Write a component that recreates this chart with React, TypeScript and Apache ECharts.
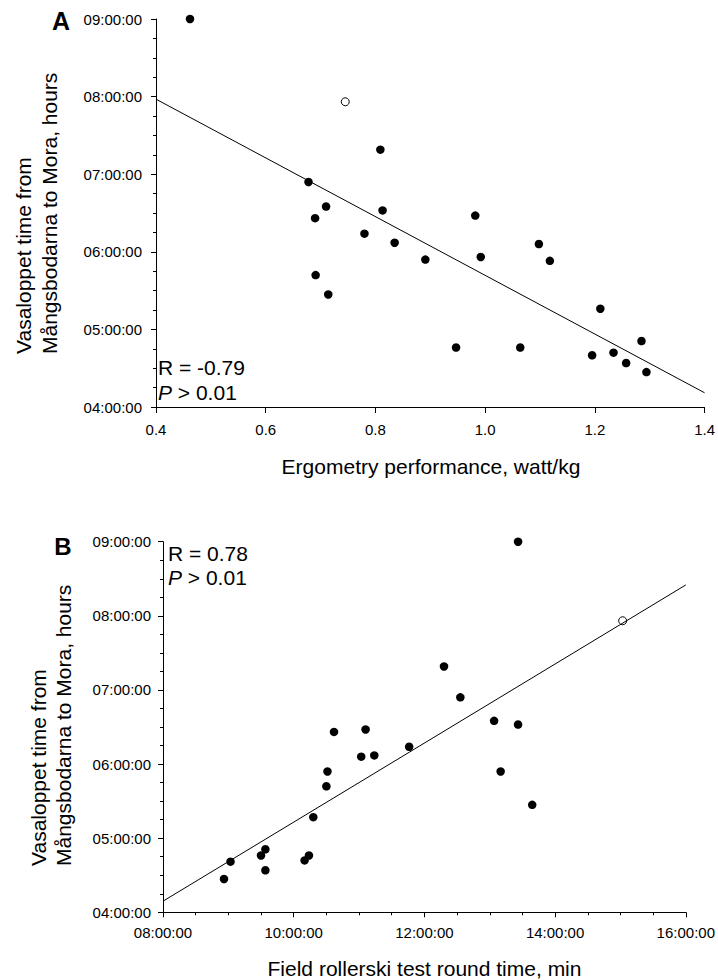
import React, { useEffect, useRef } from "react";
import * as echarts from "echarts";

// ---------- Panel A data ----------
const ergometryA = [0.462, 0.809, 0.678, 0.71, 0.69, 0.813, 0.78, 0.835, 0.891, 0.691, 0.714, 0.982, 0.992, 1.098, 1.118, 1.21, 0.947, 1.064, 1.195, 1.234, 1.257, 1.285, 1.294];
const vasaloppetA = ["09:00", "07:19", "06:54", "06:35", "06:26", "06:32", "06:14", "06:07", "05:54", "05:42", "05:27", "06:28", "05:56", "06:06", "05:53", "05:16", "04:46", "04:46", "04:40", "04:42", "04:34", "04:51", "04:27"];
const openErgometryA = [0.745];
const openVasaloppetA = ["07:56"];
const fitErgometryA = [0.4, 1.4];
const fitVasaloppetA = ["07:58", "04:11"];

// ---------- Panel B data ----------
const rollerskiB = ["13:26", "12:18", "12:33", "13:04", "13:26", "11:46", "10:37", "11:06", "11:02", "11:14", "10:31", "10:30", "10:18", "13:10", "13:39", "09:34", "09:30", "09:34", "09:02", "08:56", "10:10", "10:14"];
const vasaloppetB = ["09:00", "07:19", "06:54", "06:35", "06:32", "06:14", "06:26", "06:28", "06:06", "06:07", "05:54", "05:42", "05:17", "05:54", "05:27", "04:51", "04:46", "04:34", "04:41", "04:27", "04:42", "04:46"];
const openRollerskiB = ["15:02"];
const openVasaloppetB = ["07:56"];
const fitRollerskiB = ["08:00", "16:00"];
const fitVasaloppetB = ["04:09", "08:25"];

// ---------- Axis settings ----------
const yTicksMin = 4;
const yTicksMax = 9;
const xAMin = 0.4;
const xAMax = 1.4;
const xBMin = 8;
const xBMax = 16;

const statsA = ["R = -0.79", "> 0.01"];
const statsB = ["R = 0.78", "> 0.01"];

const FONT = "'Liberation Sans', Arial, Helvetica, sans-serif";

const toHours = (s: string) => {
  const [h, m] = s.split(":").map(Number);
  return h + m / 60;
};
const pad = (n: number) => (n < 10 ? "0" + n : "" + n);
const fmtTime = (v: number) => {
  const h = Math.floor(v + 1e-9);
  const m = Math.round((v - h) * 60);
  return pad(h) + ":" + pad(m) + ":00";
};

export default function App() {
  const ref = useRef<HTMLDivElement>(null);

  useEffect(() => {
    document.body.style.margin = "0";
    if (!ref.current) return;
    const chart = echarts.init(ref.current, undefined, { renderer: "svg" });

    const ptsA = ergometryA.map((x, i) => [x, toHours(vasaloppetA[i])]);
    const openA = openErgometryA.map((x, i) => [x, toHours(openVasaloppetA[i])]);
    const fitA = fitErgometryA.map((x, i) => [x, toHours(fitVasaloppetA[i])]);
    const ptsB = rollerskiB.map((x, i) => [toHours(x), toHours(vasaloppetB[i])]);
    const openB = openRollerskiB.map((x, i) => [toHours(x), toHours(openVasaloppetB[i])]);
    const fitB = fitRollerskiB.map((x, i) => [toHours(x), toHours(fitVasaloppetB[i])]);

    const axisLine = { show: true, lineStyle: { color: "#000", width: 1 } };
    const labelStyle = { color: "#000", fontSize: 15, fontFamily: FONT };

    const textEl = (x: number, y: number, text: string, extra: any = {}) => ({
      type: "text",
      x,
      y,
      silent: true,
      ...extra,
      style: {
        text,
        fill: "#000",
        fontSize: 21,
        fontFamily: FONT,
        ...(extra.style || {}),
      },
    });

    const statEl = (x: number, y: number, text: string) => ({
      type: "text",
      x,
      y,
      silent: true,
      style: {
        text: "{i|P} " + text,
        fill: "#000",
        fontSize: 21,
        fontFamily: FONT,
        align: "left",
        textAlign: "left",
        verticalAlign: "middle",
        textVerticalAlign: "middle",
        rich: {
          i: { fontStyle: "italic", fontSize: 21, fontFamily: FONT, fill: "#000" },
        },
      },
    });

    const rotStyle = { align: "left", textAlign: "left", verticalAlign: "middle", textVerticalAlign: "middle" };
    const midStyle = { align: "center", textAlign: "center", verticalAlign: "middle", textVerticalAlign: "middle" };
    const leftStyle = { align: "left", textAlign: "left", verticalAlign: "middle", textVerticalAlign: "middle" };

    const filled = { color: "#000", opacity: 1 };
    const hollow = { color: "#fff", borderColor: "#000", borderWidth: 1, opacity: 1 };

    chart.setOption({
      animation: false,
      backgroundColor: "#fff",
      grid: [
        { left: 156, top: 19, width: 550, height: 388 },
        { left: 163, top: 541.7, width: 523, height: 370.6 },
      ],
      xAxis: [
        {
          type: "value",
          gridIndex: 0,
          min: xAMin,
          max: xAMax,
          interval: 0.2,
          axisLine,
          axisTick: { show: true, length: 6, lineStyle: { color: "#000" } },
          splitLine: { show: false },
          axisLabel: { ...labelStyle, margin: 15, formatter: (v: number) => v.toFixed(1) },
        },
        {
          type: "value",
          gridIndex: 1,
          min: xBMin,
          max: xBMax,
          interval: 2,
          axisLine,
          axisTick: { show: true, length: 5, lineStyle: { color: "#000" } },
          minorTick: { show: true, splitNumber: 4, length: 3, lineStyle: { color: "#000" } },
          splitLine: { show: false },
          axisLabel: { ...labelStyle, margin: 13, formatter: (v: number) => fmtTime(v) },
        },
      ],
      yAxis: [
        {
          type: "value",
          gridIndex: 0,
          min: yTicksMin,
          max: yTicksMax,
          interval: 1,
          axisLine,
          axisTick: { show: true, length: 5, lineStyle: { color: "#000" } },
          minorTick: { show: true, splitNumber: 4, length: 3, lineStyle: { color: "#000" } },
          splitLine: { show: false },
          axisLabel: { ...labelStyle, margin: 14, formatter: (v: number) => fmtTime(v) },
        },
        {
          type: "value",
          gridIndex: 1,
          min: yTicksMin,
          max: yTicksMax,
          interval: 1,
          axisLine,
          axisTick: { show: true, length: 5, lineStyle: { color: "#000" } },
          minorTick: { show: true, splitNumber: 4, length: 3, lineStyle: { color: "#000" } },
          splitLine: { show: false },
          axisLabel: { ...labelStyle, margin: 12, formatter: (v: number) => fmtTime(v) },
        },
      ],
      series: [
        {
          type: "line",
          xAxisIndex: 0,
          yAxisIndex: 0,
          data: fitA,
          showSymbol: false,
          symbol: "none",
          lineStyle: { color: "#000", width: 1 },
          silent: true,
        },
        {
          type: "scatter",
          xAxisIndex: 0,
          yAxisIndex: 0,
          data: ptsA,
          symbol: "circle",
          symbolSize: 8.5,
          itemStyle: filled,
        },
        {
          type: "scatter",
          xAxisIndex: 0,
          yAxisIndex: 0,
          data: openA,
          symbol: "circle",
          symbolSize: 8,
          itemStyle: hollow,
        },
        {
          type: "line",
          xAxisIndex: 1,
          yAxisIndex: 1,
          data: fitB,
          showSymbol: false,
          symbol: "none",
          lineStyle: { color: "#000", width: 1 },
          silent: true,
        },
        {
          type: "scatter",
          xAxisIndex: 1,
          yAxisIndex: 1,
          data: ptsB,
          symbol: "circle",
          symbolSize: 8.5,
          itemStyle: filled,
        },
        {
          type: "scatter",
          xAxisIndex: 1,
          yAxisIndex: 1,
          data: openB,
          symbol: "circle",
          symbolSize: 8,
          itemStyle: hollow,
        },
      ],
      graphic: [
        // panel letters
        textEl(61, 21, "A", { style: { ...midStyle, fontSize: 25, fontWeight: "bold" } }),
        textEl(63, 546.5, "B", { style: { ...midStyle, fontSize: 24, fontWeight: "bold" } }),
        // stats A
        textEl(158, 367, statsA[0], { style: { ...leftStyle } }),
        statEl(158, 392.5, statsA[1]),
        // stats B
        textEl(168, 553, statsB[0], { style: { ...leftStyle } }),
        statEl(168, 577, statsB[1]),
        // x titles
        textEl(431, 466, "Ergometry performance, watt/kg", { style: { ...midStyle } }),
        textEl(424.5, 968, "Field rollerski test round time, min", { style: { ...midStyle } }),
        // y titles A
        textEl(23, 354, "Vasaloppet time from", { rotation: Math.PI / 2, style: { ...rotStyle } }),
        textEl(49, 354, "Mångsbodarna to Mora, hours", { rotation: Math.PI / 2, style: { ...rotStyle } }),
        // y titles B
        textEl(38.5, 866, "Vasaloppet time from", { rotation: Math.PI / 2, style: { ...rotStyle } }),
        textEl(63.5, 866, "Mångsbodarna to Mora, hours", { rotation: Math.PI / 2, style: { ...rotStyle } }),
      ],
    });

    return () => {
      chart.dispose();
    };
  }, []);

  return <div ref={ref} style={{ width: 718, height: 980 }} />;
}
